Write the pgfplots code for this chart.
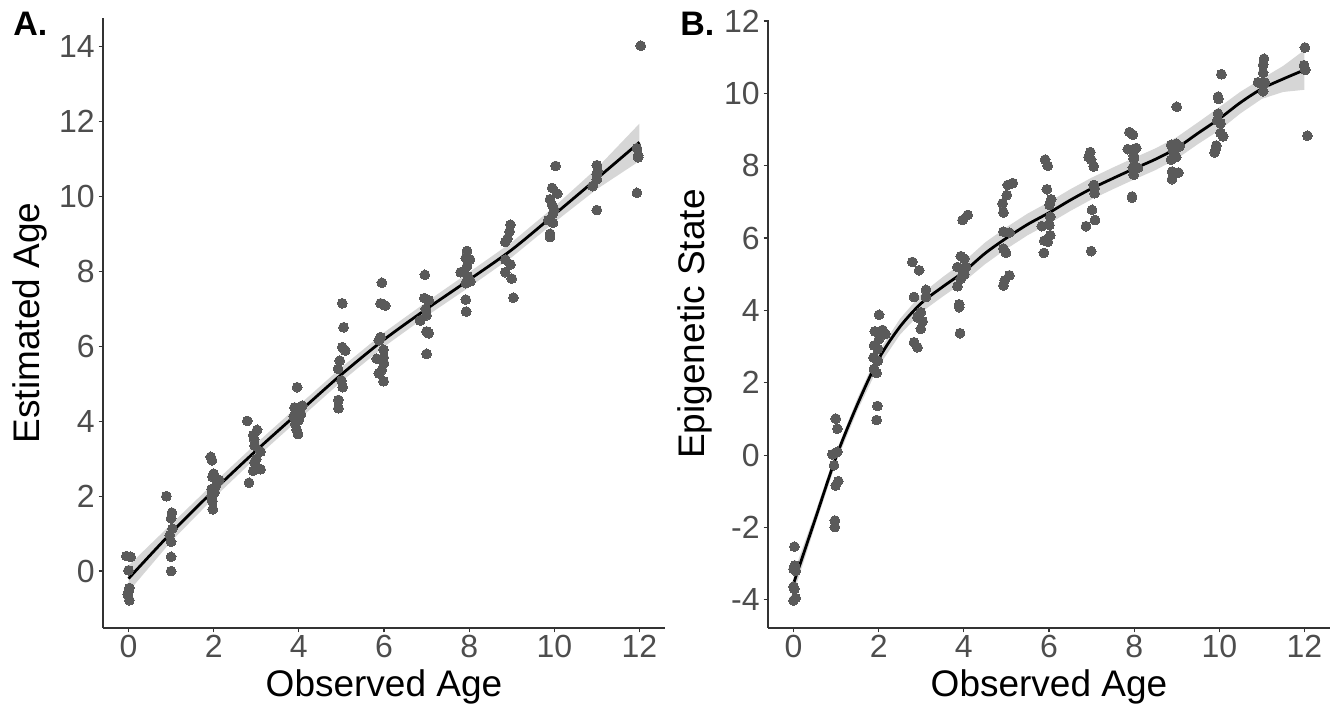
\documentclass[border=0pt]{standalone}
\usepackage{fontspec}
\setmainfont{Liberation Sans}
\usepackage{pgfplots}
\pgfplotsset{compat=1.18}

\definecolor{ptgray}{HTML}{5A5A5A}
\definecolor{bandgray}{HTML}{D6D6D6}
\definecolor{axgray}{HTML}{333333}
\definecolor{tickgray}{HTML}{4D4D4D}

\pgfplotsset{
  ggpanel/.style={
    scale only axis,
    width=281pt,
    anchor=south west,
    axis x line*=bottom,
    axis y line*=left,
    axis line style={draw=axgray,line width=0.6pt},
    tick style={draw=axgray,line width=0.6pt},
    tick align=outside,
    major tick length=2.2pt,
    xmin=-0.6,xmax=12.6,
    xtick={0,2,...,12},
    /pgf/number format/assume math mode=true,
    tick label style={font=\fontsize{16}{18}\selectfont,text=tickgray},
    xticklabel style={inner sep=0pt,yshift=-1.3pt},
    yticklabel style={inner sep=0pt,xshift=-1.8pt},
    label style={font=\fontsize{18.5}{21}\selectfont},
    xlabel style={at={(axis description cs:0.5,0)},anchor=base,yshift=-34.5pt},
    ylabel style={at={(axis description cs:-0.13,0.5)},anchor=center},
  },
  pts/.style={only marks,mark=*,mark size=2.45pt,color=ptgray,
    mark options={fill=ptgray,draw=ptgray,line width=0pt}},
  fit/.style={black,line width=1.4pt,smooth,no marks},
  band/.style={fill=bandgray,draw=none},
}

\begin{document}
\begin{tikzpicture}
\useasboundingbox (0,0) rectangle (667pt,352.5pt);

% ---- A: estimated vs observed age
\begin{axis}[ggpanel,
  at={(51.5pt,38.5pt)},
  height=305pt,
  ymin=-1.52,ymax=14.77,
  ytick={0,2,...,14},
  xlabel={Observed Age},
  ylabel={Estimated Age},
]
\addplot[band] coordinates {
  (0,0.15) (1,1.25) (2,2.35) (3,3.41) (4,4.43) (5,5.44) (6,6.37)
  (7,7.19) (8,7.98) (9,8.78) (10,9.73) (11,10.76) (12,11.95)
  (12,10.95) (11,10.20) (10,9.31) (9,8.38) (8,7.58) (7,6.81) (6,5.99)
  (5,5.06) (4,4.05) (3,3.03) (2,1.95) (1,0.79) (0,-0.55)
} -- cycle;
\addplot[pts] coordinates {
  (-0.05,0.40) (0.05,0.38) (0.0,0.02) (0.02,-0.45) (0.0,-0.55) (-0.02,-0.62) (0.02,-0.78)
  (0.89,2.0) (1.02,1.56) (1.0,1.41) (1.03,1.13) (0.97,0.96) (1.0,0.78) (1.0,0.38) (1.0,0.0)
  (1.93,3.05) (1.96,2.96) (2.0,2.6) (1.97,2.52) (2.13,2.43) (2.05,2.27) (1.95,2.19)
  (2.02,2.1) (1.95,2.0) (1.97,1.87) (1.98,1.65)
  (2.79,4.01) (3.02,3.77) (2.93,3.63) (2.95,3.52) (2.96,3.35) (3.1,3.19) (3.0,2.99)
  (2.96,2.9) (3.1,2.72) (2.93,2.68) (2.83,2.36)
  (3.96,4.91) (3.9,4.37) (4.08,4.42) (3.95,4.28) (4.05,4.19) (3.88,4.13) (4.0,4.03)
  (3.92,3.93) (3.95,3.77) (3.98,3.66)
  (5.02,7.15) (5.05,6.51) (5.02,5.98) (5.09,5.89) (4.96,5.62) (4.92,5.4) (5.0,5.09)
  (5.03,4.91) (4.93,4.57) (4.93,4.35)
  (5.95,7.7) (5.92,7.15) (6.03,7.09) (5.92,6.25) (5.88,6.16) (5.99,5.91) (5.83,5.67)
  (5.99,5.71) (6.0,5.55) (5.95,5.37) (5.88,5.28) (5.99,5.07)
  (6.96,7.91) (6.95,7.29) (7.05,7.23) (6.98,7.0) (7.0,6.83) (6.85,6.69) (7.0,6.4)
  (7.05,6.35) (7.0,5.8)
  (7.95,8.55) (7.92,8.36) (8.02,8.32) (7.95,8.14) (7.8,7.98) (7.97,7.87) (8.03,7.74)
  (7.92,7.69) (7.92,7.25) (7.93,6.93)
  (8.97,9.25) (8.95,9.07) (8.9,8.88) (8.85,8.79) (8.85,8.32) (8.97,8.19) (8.85,7.98)
  (9.0,7.81) (9.04,7.3)
  (10.03,10.82) (9.95,10.23) (10.07,10.08) (9.9,9.93) (9.95,9.77) (10.0,9.64)
  (9.97,9.55) (9.86,9.37) (9.97,9.3) (9.9,9.01) (9.9,8.92)
  (11.0,10.84) (11.02,10.68) (11.0,10.6) (11.0,10.46) (10.9,10.28) (11.0,9.64)
  (12.03,14.03) (11.94,11.29) (11.97,11.1) (11.97,11.05) (11.94,10.1)
};
\addplot[fit] coordinates {
  (0,-0.2) (1,1.02) (2,2.15) (3,3.22) (4,4.24) (5,5.25) (6,6.18)
  (7,7.0) (8,7.78) (9,8.58) (10,9.52) (11,10.48) (12,11.45)
};
\end{axis}

% ---- B: epigenetic state vs observed age
\begin{axis}[ggpanel,
  at={(384pt,38.5pt)},
  height=304pt,
  ymin=-4.78,ymax=12.03,
  ytick={-4,-2,...,12},
  xlabel={Observed Age},
  ylabel={Epigenetic State},
]
\addplot[band] coordinates {
  (0,-3.27) (0.5,-1.62) (1,0.10) (1.5,1.57) (2,2.86) (2.5,3.77) (3,4.45)
  (3.5,4.92) (4,5.35) (4.5,5.88) (5,6.30) (5.5,6.68) (6,7.00) (6.5,7.35)
  (7,7.67) (7.5,7.95) (8,8.22) (8.5,8.48) (9,8.79) (9.5,9.20) (10,9.62)
  (10.5,10.05) (11,10.41) (11.5,10.76) (12,11.20)
  (12,10.10) (11.5,10.04) (11,9.85) (10.5,9.45) (10,8.98) (9.5,8.60) (9,8.19)
  (8.5,7.88) (8,7.62) (7.5,7.35) (7,7.07) (6.5,6.75) (6,6.40) (5.5,6.08)
  (5,5.70) (4.5,5.28) (4,4.79) (3.5,4.38) (3,3.95) (2.5,3.33) (2,2.46)
  (1.5,1.23) (1,-0.20) (0.5,-1.98) (0,-3.83)
} -- cycle;
\addplot[pts] coordinates {
  (0.02,-2.53) (0.03,-3.05) (0.0,-3.15) (0.05,-3.2) (0.0,-3.64) (0.02,-3.7) (0.0,-4.02) (0.05,-3.95)
  (0.99,1.01) (1.03,0.73) (0.91,0.02) (1.03,0.09) (0.95,-0.28) (1.05,-0.72) (0.99,-0.84)
  (0.97,-1.81) (0.97,-1.99)
  (2.01,3.88) (1.91,3.42) (2.09,3.46) (2.16,3.35) (2.01,3.21) (1.89,3.03) (1.98,2.94)
  (1.88,2.7) (1.98,2.61) (1.89,2.38) (1.95,2.27) (1.97,1.36) (1.95,0.97)
  (2.79,5.34) (2.95,5.11) (3.11,4.57) (2.83,4.37) (3.11,4.37) (2.99,3.95) (2.91,3.81)
  (3.03,3.7) (2.99,3.49) (2.83,3.12) (2.91,2.98)
  (4.09,6.64) (3.97,6.5) (3.93,5.5) (4.01,5.43) (3.85,5.2) (4.05,5.2) (3.97,5.11)
  (4.01,5.0) (3.93,4.88) (3.85,4.67) (3.89,4.17) (3.89,4.09) (3.91,3.37)
  (5.15,7.52) (5.03,7.47) (5.01,7.19) (4.91,6.96) (4.93,6.71) (4.93,6.18) (5.07,6.15)
  (4.93,5.71) (4.99,5.59) (5.07,4.97) (4.96,4.83) (4.93,4.69)
  (5.91,8.17) (5.97,8.0) (5.95,7.35) (6.05,7.07) (6.01,6.92) (6.03,6.59) (5.83,6.33)
  (6.01,6.36) (6.03,6.08) (5.89,5.93) (5.97,5.9) (5.88,5.59)
  (6.97,8.38) (6.93,8.24) (6.99,8.17) (7.05,7.98) (7.05,7.47) (7.07,7.38) (7.07,7.24)
  (7.01,6.78) (7.08,6.5) (6.87,6.33) (6.99,5.64)
  (7.89,8.93) (7.97,8.86) (7.85,8.46) (8.05,8.49) (7.99,8.28) (7.99,8.19) (7.97,7.95)
  (8.09,7.94) (7.99,7.75) (7.95,7.15) (7.95,7.12)
  (9.0,9.63) (8.87,8.58) (8.99,8.61) (9.07,8.54) (8.91,8.44) (8.95,8.33) (8.87,8.17)
  (8.99,8.24) (8.89,7.84) (9.04,7.81) (8.89,7.63)
  (10.05,10.53) (9.97,9.91) (9.98,9.85) (9.97,9.44) (9.95,9.25) (10.03,9.17)
  (10.03,8.91) (10.09,8.81) (9.93,8.56) (9.91,8.44) (9.89,8.37)
  (11.05,10.96) (11.03,10.79) (11.03,10.57) (10.91,10.31) (11.07,10.3) (11.03,10.06)
  (12.01,11.27) (11.99,10.78) (12.02,10.65) (12.07,8.83)
};
\addplot[fit] coordinates {
  (0,-3.55) (0.5,-1.8) (1,-0.05) (1.5,1.4) (2,2.66) (2.5,3.55) (3,4.2)
  (3.5,4.65) (4,5.07) (4.5,5.58) (5,6.0) (5.5,6.38) (6,6.7) (6.5,7.05)
  (7,7.37) (7.5,7.65) (8,7.92) (8.5,8.18) (9,8.49) (9.5,8.9) (10,9.3)
  (10.5,9.75) (11,10.13) (11.5,10.4) (12,10.65)
};
\end{axis}

\node[anchor=north west,inner sep=0pt,font=\bfseries\fontsize{17}{20}\selectfont]
  at (6.5pt,346.5pt) {A.};
\node[anchor=north west,inner sep=0pt,font=\bfseries\fontsize{17}{20}\selectfont]
  at (340pt,346.5pt) {B.};
\end{tikzpicture}
\end{document}
